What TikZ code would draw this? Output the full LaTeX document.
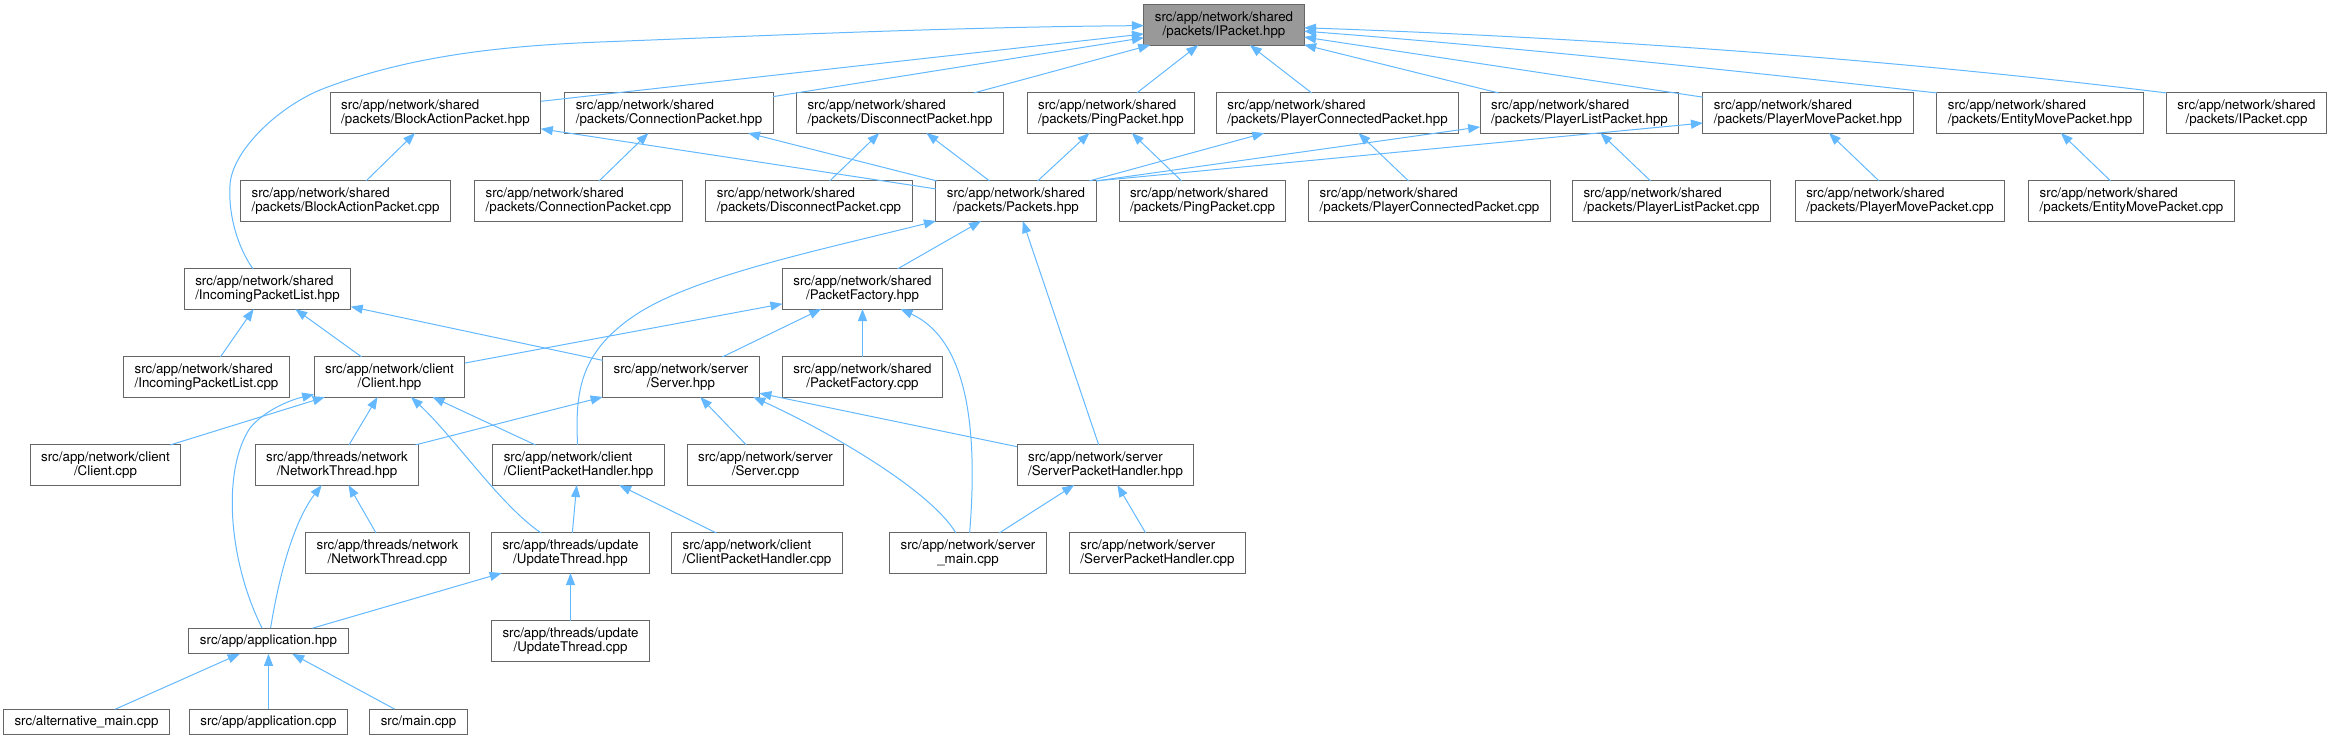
\documentclass[tikz,border=0pt]{standalone}
\usepackage{fontspec}
\setmainfont{TeX Gyre Heros}
\usepackage{xcolor}
\usepackage{tikz}
\usetikzlibrary{arrows.meta}

\definecolor{edgeblue}{HTML}{63B8FF}
\definecolor{boxgray}{HTML}{666666}
\definecolor{focusgray}{HTML}{999999}

\begin{document}
\begin{tikzpicture}[
    x=1pt, y=-1pt,
    filenode/.style={
        rectangle, draw=boxgray, fill=white, line width=1pt,
        inner xsep=11pt, inner ysep=6.5pt, outer sep=0pt,
        align=center, font=\fontsize{13.33}{14.5}\selectfont
    },
    filenodel/.style={filenode, align=left},
    focusnode/.style={filenode, fill=focusgray},
    dep/.style={-{Triangle[length=12pt, width=9pt]}, draw=edgeblue, line width=1pt},
]
\useasboundingbox (0,0) rectangle (2331,740);

% Header in cima
\node[focusnode] (ipackethpp) at (1224,25) {src/app/network/shared\\/packets/IPacket.hpp};

% Pacchetti (.hpp)
\node[filenodel] (blockhpp)  at (435.5,113)  {src/app/network/shared\\/packets/BlockActionPacket.hpp};
\node[filenodel] (connhpp)   at (669,113)    {src/app/network/shared\\/packets/ConnectionPacket.hpp};
\node[filenodel] (dischpp)   at (900,113)    {src/app/network/shared\\/packets/DisconnectPacket.hpp};
\node[filenodel] (pinghpp)   at (1111,113)   {src/app/network/shared\\/packets/PingPacket.hpp};
\node[filenodel] (pconnhpp)  at (1337.5,113) {src/app/network/shared\\/packets/PlayerConnectedPacket.hpp};
\node[filenodel] (plisthpp)  at (1579.5,113) {src/app/network/shared\\/packets/PlayerListPacket.hpp};
\node[filenodel] (pmovehpp)  at (1808,113)   {src/app/network/shared\\/packets/PlayerMovePacket.hpp};
\node[filenodel] (emovehpp)  at (2040,113)   {src/app/network/shared\\/packets/EntityMovePacket.hpp};
\node[filenode]  (ipacketcpp) at (2246.5,113) {src/app/network/shared\\/packets/IPacket.cpp};

% Pacchetti (.cpp) e Packets.hpp
\node[filenodel] (blockcpp)   at (345.5,201)  {src/app/network/shared\\/packets/BlockActionPacket.cpp};
\node[filenodel] (conncpp)    at (578.5,201)  {src/app/network/shared\\/packets/ConnectionPacket.cpp};
\node[filenodel] (disccpp)    at (809,201)    {src/app/network/shared\\/packets/DisconnectPacket.cpp};
\node[filenode]  (packetshpp) at (1016,201)   {src/app/network/shared\\/packets/Packets.hpp};
\node[filenodel] (pingcpp)    at (1202.5,201) {src/app/network/shared\\/packets/PingPacket.cpp};
\node[filenodel] (pconncpp)   at (1429.5,201) {src/app/network/shared\\/packets/PlayerConnectedPacket.cpp};
\node[filenodel] (plistcpp)   at (1671.5,201) {src/app/network/shared\\/packets/PlayerListPacket.cpp};
\node[filenodel] (pmovecpp)   at (1900,201)   {src/app/network/shared\\/packets/PlayerMovePacket.cpp};
\node[filenodel] (emovecpp)   at (2131.5,201) {src/app/network/shared\\/packets/EntityMovePacket.cpp};

% Rete: shared, client, server
\node[filenodel] (inlisthpp)  at (267.5,289) {src/app/network/shared\\/IncomingPacketList.hpp};
\node[filenode]  (factoryhpp) at (862.5,289) {src/app/network/shared\\/PacketFactory.hpp};

\node[filenodel] (inlistcpp)  at (206.5,377) {src/app/network/shared\\/IncomingPacketList.cpp};
\node[filenode]  (clienthpp)  at (389.5,377) {src/app/network/client\\/Client.hpp};
\node[filenode]  (serverhpp)  at (681,377)   {src/app/network/server\\/Server.hpp};
\node[filenode]  (factorycpp) at (862.5,377) {src/app/network/shared\\/PacketFactory.cpp};

\node[filenode]  (clientcpp)    at (105.5,465)  {src/app/network/client\\/Client.cpp};
\node[filenode]  (netthreadhpp) at (337,465)    {src/app/threads/network\\/NetworkThread.hpp};
\node[filenodel] (chandlerhpp)  at (578.5,465)  {src/app/network/client\\/ClientPacketHandler.hpp};
\node[filenode]  (servercpp)    at (765.5,465)  {src/app/network/server\\/Server.cpp};
\node[filenodel] (shandlerhpp)  at (1105.5,465) {src/app/network/server\\/ServerPacketHandler.hpp};

\node[filenode]  (netthreadcpp) at (387.5,553)  {src/app/threads/network\\/NetworkThread.cpp};
\node[filenode]  (updatehpp)    at (570.5,553)  {src/app/threads/update\\/UpdateThread.hpp};
\node[filenodel] (chandlercpp)  at (757,553)    {src/app/network/client\\/ClientPacketHandler.cpp};
\node[filenode]  (servermain)   at (968,553)    {src/app/network/server\\\_main.cpp};
\node[filenodel] (shandlercpp)  at (1157.5,553) {src/app/network/server\\/ServerPacketHandler.cpp};

% Applicazione
\node[filenode] (apphpp)    at (268.5,641) {src/app/application.hpp};
\node[filenode] (updatecpp) at (570.5,641) {src/app/threads/update\\/UpdateThread.cpp};

\node[filenode] (altmain) at (86.5,722)  {src/alternative\_main.cpp};
\node[filenode] (appcpp)  at (268.5,722) {src/app/application.cpp};
\node[filenode] (maincpp) at (418.5,722) {src/main.cpp};

%% Dipendenze verso IPacket.hpp
\draw[dep] (inlisthpp) .. controls (238,248) and (228,215) .. (230,185)
    .. controls (232,150) and (280,105) .. (325,88)
    .. controls (410,56) and (500,46) .. (600,42)
    .. controls (780,35) and (960,27) .. (ipackethpp);
\draw[dep] (blockhpp) -- (ipackethpp);
\draw[dep] (connhpp) -- (ipackethpp);
\draw[dep] (dischpp) -- (ipackethpp);
\draw[dep] (pinghpp) -- (ipackethpp);
\draw[dep] (pconnhpp) -- (ipackethpp);
\draw[dep] (plisthpp) -- (ipackethpp);
\draw[dep] (pmovehpp) -- (ipackethpp);
\draw[dep] (emovehpp.north west) .. controls (1800,78) and (1550,50) .. (ipackethpp);
\draw[dep] (ipacketcpp.north west) .. controls (1900,60) and (1600,38) .. (ipackethpp);

%% .cpp verso .hpp dei pacchetti
\draw[dep] (blockcpp) -- (blockhpp);
\draw[dep] (conncpp) -- (connhpp);
\draw[dep] (disccpp) -- (dischpp);
\draw[dep] (pingcpp) -- (pinghpp);
\draw[dep] (pconncpp) -- (pconnhpp);
\draw[dep] (plistcpp) -- (plisthpp);
\draw[dep] (pmovecpp) -- (pmovehpp);
\draw[dep] (emovecpp) -- (emovehpp);

%% Packets.hpp
\draw[dep] (packetshpp) -- (blockhpp);
\draw[dep] (packetshpp) -- (connhpp);
\draw[dep] (packetshpp) -- (dischpp);
\draw[dep] (packetshpp) -- (pinghpp);
\draw[dep] (packetshpp) -- (pconnhpp);
\draw[dep] (packetshpp.north east) -- (plisthpp);
\draw[dep] (packetshpp.north east) -- (pmovehpp);

\draw[dep] (factoryhpp) -- (packetshpp);
\draw[dep] (chandlerhpp) .. controls (575,390) and (580,350) .. (640,312)
    .. controls (700,275) and (820,250) .. (packetshpp);
\draw[dep] (shandlerhpp) -- (packetshpp);

%% PacketFactory.hpp e IncomingPacketList.hpp
\draw[dep] (clienthpp) -- (factoryhpp);
\draw[dep] (serverhpp) -- (factoryhpp);
\draw[dep] (factorycpp) -- (factoryhpp);
\draw[dep] (servermain) .. controls (978,430) and (968,340) .. ([xshift=-42pt]factoryhpp.south east);

\draw[dep] (inlistcpp) -- (inlisthpp);
\draw[dep] (clienthpp) -- (inlisthpp);
\draw[dep] (serverhpp) -- (inlisthpp);

%% Client.hpp e Server.hpp
\draw[dep] (clientcpp) -- (clienthpp);
\draw[dep] (netthreadhpp) -- (clienthpp);
\draw[dep] (chandlerhpp) -- (clienthpp);
\draw[dep] (updatehpp) .. controls (500,505) and (455,438) .. (clienthpp);
\draw[dep] (apphpp) .. controls (228,560) and (222,470) .. (250,428)
    .. controls (265,410) and (290,400) .. (clienthpp);

\draw[dep] (netthreadhpp) -- (serverhpp);
\draw[dep] (servercpp) -- (serverhpp);
\draw[dep] (servermain) .. controls (930,490) and (830,432) .. ([xshift=-6pt]serverhpp.south east);
\draw[dep] (shandlerhpp) -- (serverhpp);

%% Thread e handler
\draw[dep] (netthreadcpp) -- (netthreadhpp);
\draw[dep] (apphpp) .. controls (280,570) and (295,520) .. (netthreadhpp);
\draw[dep] (updatehpp) -- (chandlerhpp);
\draw[dep] (chandlercpp) -- (chandlerhpp);
\draw[dep] (updatecpp) -- (updatehpp);
\draw[dep] (apphpp) -- (updatehpp);
\draw[dep] (servermain) -- (shandlerhpp);
\draw[dep] (shandlercpp) -- (shandlerhpp);

%% application.hpp
\draw[dep] (altmain) -- (apphpp);
\draw[dep] (appcpp) -- (apphpp);
\draw[dep] (maincpp) -- (apphpp);
\end{tikzpicture}
\end{document}
